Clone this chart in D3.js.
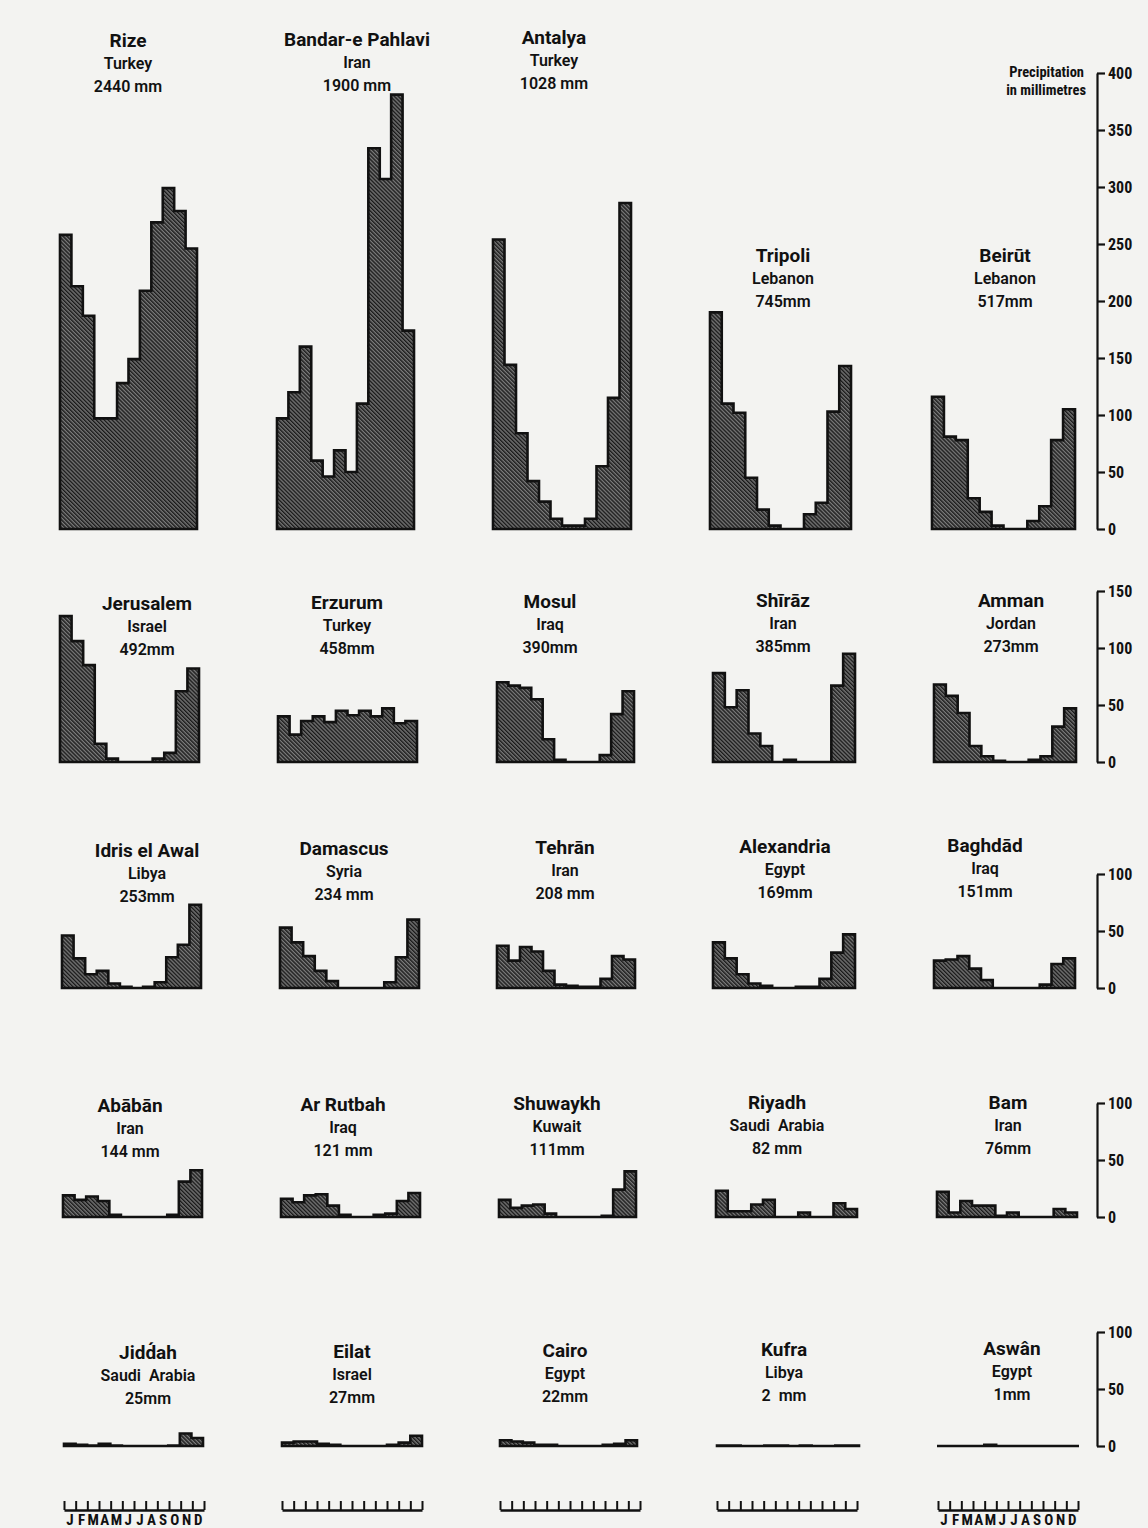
<!DOCTYPE html>
<html>
<head>
<meta charset="utf-8">
<script src="https://cdn.jsdelivr.net/npm/d3@7"></script>
<style>
  html, body { margin: 0; padding: 0; background: #f3f3f1; }
  svg { display: block; }
</style>
</head>
<body>
<div id="chart"></div>
<script>
// ---------------- DATA ----------------
const months = ["J","F","M","A","M","J","J","A","S","O","N","D"];

const cities = [
  "Rize", "Bandar-e Pahlavi", "Antalya", "Tripoli", "Beirūt",
  "Jerusalem", "Erzurum", "Mosul", "Shīrāz", "Amman",
  "Idris el Awal", "Damascus", "Tehrān", "Alexandria", "Baghdād",
  "Abābān", "Ar Rutbah", "Shuwaykh", "Riyadh", "Bam",
  "Jidd\u0301ah", "Eilat", "Cairo", "Kufra", "Aswân"
];

const countries = [
  "Turkey", "Iran", "Turkey", "Lebanon", "Lebanon",
  "Israel", "Turkey", "Iraq", "Iran", "Jordan",
  "Libya", "Syria", "Iran", "Egypt", "Iraq",
  "Iran", "Iraq", "Kuwait", "Saudi  Arabia", "Iran",
  "Saudi  Arabia", "Israel", "Egypt", "Libya", "Egypt"
];

const totals = [
  "2440 mm", "1900 mm", "1028 mm", "745mm", "517mm",
  "492mm", "458mm", "390mm", "385mm", "273mm",
  "253mm", "234 mm", "208 mm", "169mm", "151mm",
  "144 mm", "121 mm", "111mm", "82 mm", "76mm",
  "25mm", "27mm", "22mm", "2  mm", "1mm"
];

// monthly precipitation in mm, J..D
const precipitation = [
  [258, 213, 187, 97, 97, 128, 149, 209, 269, 299, 279, 246],   // Rize
  [97, 120, 160, 60, 46, 69, 50, 110, 334, 307, 381, 174],      // Bandar-e Pahlavi
  [254, 144, 84, 42, 24, 9, 3, 3, 9, 55, 115, 286],             // Antalya
  [190, 110, 102, 45, 17, 3, 0, 0, 13, 23, 103, 143],           // Tripoli
  [116, 81, 78, 27, 15, 3, 0, 0, 7, 20, 78, 105],               // Beirut
  [128, 106, 85, 16, 3, 0, 0, 0, 3, 8, 62, 82],                 // Jerusalem
  [40, 24, 36, 40, 35, 45, 41, 45, 40, 47, 34, 36],             // Erzurum
  [70, 67, 65, 55, 20, 2, 0, 0, 0, 6, 42, 62],                  // Mosul
  [78, 48, 63, 25, 14, 0, 2, 0, 0, 0, 67, 95],                  // Shiraz
  [68, 58, 43, 14, 5, 1, 0, 0, 2, 5, 31, 47],                   // Amman
  [46, 26, 12, 15, 4, 1, 0, 1, 5, 27, 38, 73],                  // Idris el Awal
  [53, 40, 28, 15, 6, 0, 0, 0, 0, 5, 27, 60],                   // Damascus
  [37, 24, 36, 32, 15, 3, 2, 1, 1, 8, 28, 25],                  // Tehran
  [40, 26, 12, 4, 2, 0, 0, 1, 1, 8, 31, 47],                    // Alexandria
  [24, 25, 28, 17, 7, 0, 0, 0, 0, 3, 21, 26],                   // Baghdad
  [19, 15, 18, 14, 2, 0, 0, 0, 0, 2, 31, 41],                   // Ababan
  [16, 13, 19, 20, 10, 2, 0, 0, 2, 3, 14, 21],                  // Ar Rutbah
  [15, 8, 10, 11, 3, 0, 0, 0, 0, 1, 24, 40],                    // Shuwaykh
  [23, 5, 5, 11, 15, 0, 0, 4, 0, 0, 12, 7],                     // Riyadh
  [22, 4, 14, 10, 10, 1, 4, 0, 0, 0, 7, 4],                     // Bam
  [2, 1, 0.5, 2, 0.5, 0, 0, 0, 0, 0.5, 11, 7],                  // Jiddah
  [3, 4, 4, 2, 1, 0, 0, 0, 0, 1, 3, 9],                         // Eilat
  [5, 4, 3, 1, 1, 0, 0, 0, 0, 1, 2, 5],                         // Cairo
  [0.5, 0.3, 0, 0, 0.3, 0.3, 0, 0.4, 0, 0, 0.5, 0.5],           // Kufra
  [0, 0, 0, 0, 1, 0, 0, 0, 0, 0, 0, 0]                          // Aswan
];

const axisTicks = [
  [0, 50, 100, 150, 200, 250, 300, 350, 400],
  [0, 50, 100, 150],
  [0, 50, 100],
  [0, 50, 100],
  [0, 50, 100]
];

// ---------------- LAYOUT ----------------
const W = 1148, H = 1528;
const pxPerMm = 1.14;
const rowBase = [529, 762, 988, 1217, 1446];
const chartLeft = [
  [60, 277, 493, 710, 932],
  [60, 278, 497, 713, 934],
  [62, 280, 497, 713, 934],
  [63, 281, 499, 716, 937],
  [64, 282, 500, 717, 937]
];
const chartWidth = [
  [137, 137, 138, 141, 143],
  [139, 139, 137, 142, 142],
  [139, 139, 138, 142, 141],
  [139, 139, 137, 141, 140],
  [139, 140, 137, 142, 142]
];
// name centre x, name centre y
const titlePos = [
  [128, 40], [357, 39], [554, 37], [783, 255], [1005, 255],
  [147, 603], [347, 602], [550, 601], [783, 600], [1011, 600],
  [147, 850], [344, 848], [565, 847], [785, 846], [985, 845],
  [130, 1105], [343, 1104], [557, 1103], [777, 1102], [1008, 1102],
  [148, 1352], [352, 1351], [565, 1350], [784, 1349], [1012, 1348]
];
const monthAxisLeft = [64, 282, 500, 717, 938];
const monthAxisWidth = 140;
const monthAxisY = 1510;
const axisX = 1097;

// ---------------- DRAW ----------------
const svg = d3.select("#chart").append("svg")
  .attr("width", W).attr("height", H)
  .attr("viewBox", `0 0 ${W} ${H}`);

svg.append("rect").attr("width", W).attr("height", H).attr("fill", "#f3f3f1");

const defs = svg.append("defs");
const pat = defs.append("pattern")
  .attr("id", "hatch")
  .attr("width", 2.8).attr("height", 2.8)
  .attr("patternUnits", "userSpaceOnUse")
  .attr("patternTransform", "rotate(-45)");
pat.append("rect").attr("width", 2.8).attr("height", 2.8).attr("fill", "#7a7a7a");
pat.append("line").attr("x1", 0.7).attr("y1", 0).attr("x2", 0.7).attr("y2", 2.8)
  .attr("stroke", "#1a1a1a").attr("stroke-width", 1.5);

const nameFont = "Roboto, 'Liberation Sans', Arial, sans-serif";
const condFont = "'Liberation Sans Narrow', 'Roboto Condensed', 'DejaVu Sans Condensed', Roboto, 'Liberation Sans', sans-serif";

precipitation.forEach((vals, i) => {
  const row = Math.floor(i / 5), col = i % 5;
  const left = chartLeft[row][col], w = chartWidth[row][col];
  const x = d3.scaleLinear().domain([0, 12]).range([left, left + w]);
  const y = d3.scaleLinear().domain([0, 400]).range([rowBase[row], rowBase[row] - 400 * pxPerMm]);
  const pts = vals.map((v, k) => [k, v]).concat([[12, vals[11]]]);
  const area = d3.area()
    .x(d => x(d[0]))
    .y0(y(0))
    .y1(d => y(d[1]))
    .curve(d3.curveStepAfter);
  svg.append("path")
    .datum(pts)
    .attr("d", area)
    .attr("fill", "url(#hatch)")
    .attr("stroke", "#111")
    .attr("stroke-width", 2.6)
    .attr("stroke-linejoin", "miter");

  const [cx, cy] = titlePos[i];
  const g = svg.append("g").attr("text-anchor", "middle").attr("fill", "#111");
  g.append("text").attr("x", cx).attr("y", cy + 6.5)
    .attr("font-family", nameFont).attr("font-weight", 700).attr("font-size", 19)
    .text(cities[i]);
  g.append("text").attr("x", cx).attr("y", cy + 29)
    .attr("font-family", nameFont).attr("font-weight", 600).attr("font-size", 16)
    .style("white-space", "pre")
    .text(countries[i]);
  g.append("text").attr("x", cx).attr("y", cy + 52)
    .attr("font-family", nameFont).attr("font-weight", 600).attr("font-size", 16)
    .style("white-space", "pre")
    .text(totals[i]);
});

// right-hand scale axes
axisTicks.forEach((ticks, row) => {
  const maxV = ticks[ticks.length - 1];
  const y = d3.scaleLinear().domain([0, maxV]).range([rowBase[row], rowBase[row] - maxV * pxPerMm]);
  const ax = svg.append("g")
    .attr("transform", `translate(${axisX},0)`)
    .call(d3.axisRight(y).tickValues(ticks).tickSize(8).tickSizeOuter(0).tickPadding(3).tickFormat(d3.format("d")));
  ax.select(".domain").attr("stroke", "#111").attr("stroke-width", 2.2);
  ax.selectAll(".tick line").attr("stroke", "#111").attr("stroke-width", 2.2);
  ax.selectAll(".tick text")
    .attr("fill", "#111")
    .attr("font-family", condFont).attr("font-weight", 700).attr("font-size", 16);
});

svg.append("text").attr("x", 1084).attr("y", 77).attr("text-anchor", "end")
  .attr("font-family", condFont).attr("font-weight", 700).attr("font-size", 14.5).attr("fill", "#111")
  .text("Precipitation");
svg.append("text").attr("x", 1086).attr("y", 95).attr("text-anchor", "end")
  .attr("font-family", condFont).attr("font-weight", 700).attr("font-size", 14.5).attr("fill", "#111")
  .text("in millimetres");

// month scales along the bottom
monthAxisLeft.forEach((left, col) => {
  const x = d3.scaleLinear().domain([0, 12]).range([left, left + monthAxisWidth]);
  const ax = svg.append("g")
    .attr("transform", `translate(0,${monthAxisY})`)
    .call(d3.axisTop(x).tickValues(d3.range(13)).tickSize(9).tickSizeOuter(0).tickFormat(""));
  ax.select(".domain").attr("stroke", "#111").attr("stroke-width", 2.4);
  ax.selectAll(".tick line").attr("stroke", "#111").attr("stroke-width", 2);
  if (col === 0 || col === 4) {
    const xb = d3.scaleBand().domain(d3.range(12)).range([left, left + monthAxisWidth]);
    const lab = svg.append("g")
      .attr("transform", `translate(0,${monthAxisY})`)
      .call(d3.axisBottom(xb).tickSize(0).tickPadding(4).tickFormat(k => months[k]));
    lab.select(".domain").remove();
    lab.selectAll(".tick text")
      .attr("fill", "#111")
      .attr("font-family", condFont).attr("font-weight", 700).attr("font-size", 15);
  }
});
</script>
</body>
</html>
